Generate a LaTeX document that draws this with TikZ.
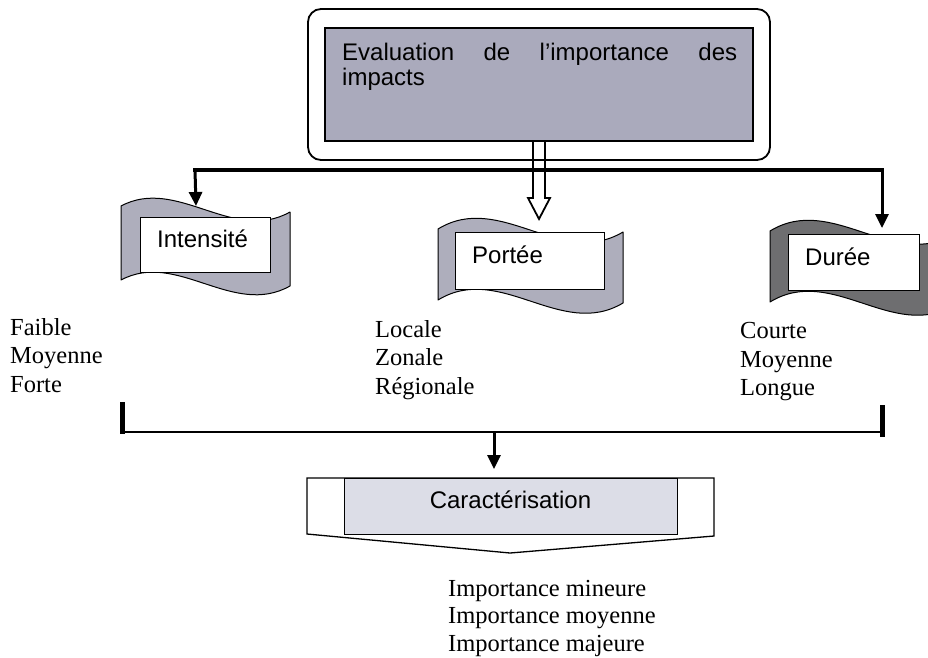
\documentclass[tikz,border=0pt]{standalone}
\usepackage{fontspec}
\newfontfamily\arialf{Liberation Sans}
\newfontfamily\timesf{Liberation Serif}
\usetikzlibrary{arrows.meta,calc}
\definecolor{bannerlight}{HTML}{AEAEBC}
\definecolor{bannerdark}{HTML}{6E6E70}
\definecolor{topfill}{HTML}{AAAABC}
\definecolor{caracfill}{HTML}{DCDDE7}
\begin{document}
\begin{tikzpicture}[x=1pt,y=-1pt,
  sans/.style={font=\arialf\fontsize{24}{28}\selectfont, inner sep=0pt, anchor=base west},
  serif/.style={font=\timesf\fontsize{24.5}{28}\selectfont, inner sep=0pt, anchor=base west},
  rectbox/.style={draw=black, line width=1.3pt, inner sep=0pt, anchor=north west},
  wbox/.style={rectbox, fill=white},
  bannerl/.style={draw=black, line width=1pt, fill=bannerlight, line join=round},
  bannerd/.style={draw=black, line width=1pt, fill=bannerdark, line join=round},
  arrowline/.style={line width=3pt, -{Triangle[width=13pt,length=14pt]}},
  hollowarrow/.style={draw=black, line width=1.8pt, line join=miter}
]
\fill[white] (0,0) rectangle (928,657);
\useasboundingbox (0,0) rectangle (928,657);

% top box
\node[draw=black, line width=1.8pt, rounded corners=13pt, fill=white,
      minimum width=462pt, minimum height=151pt, inner sep=0pt] (evout) at (539,84.5) {};
\node[draw=black, line width=1.5pt, fill=topfill,
      minimum width=428pt, minimum height=113pt, inner sep=0pt] (evin) at (539,84.5) {};
\node[sans] (evt1) at (342,60) {\makebox[395pt][l]{Evaluation\hfill de\hfill l’importance\hfill des}};
\node[sans] (evt2) at (342,85) {impacts};

% distribution line and arrows
\coordinate (hl) at (195,170);
\coordinate (hr) at (882,170);
\coordinate (inttip) at (196,206);
\coordinate (durtip) at (882,228);
\coordinate (portip) at (539,219);

% banners
\draw[bannerl] (121,206) .. controls (177,176) and (233,244) .. (290,212)
   -- (290,286) .. controls (233,318) and (177,250) .. (121,280) -- cycle;
\draw[bannerl] (438,229) .. controls (500,191) and (561,269) .. (623,232)
   -- (623,303) .. controls (561,340) and (500,262) .. (438,300) -- cycle;
\draw[bannerd] (770,231) .. controls (832,193) and (893,271) .. (955,234)
   -- (955,305) .. controls (893,342) and (832,264) .. (770,302) -- cycle;

\node[wbox, minimum width=130pt, minimum height=55pt] (intbox) at (140,217) {};
\node[wbox, minimum width=149pt, minimum height=57pt] (porbox) at (455,232) {};
\node[wbox, minimum width=131pt, minimum height=56pt] (durbox) at (788,234) {};
\node[sans] (intt) at ([xshift=17pt,yshift=-30pt]intbox.north west) {Intensité};
\node[sans] (port) at ([xshift=17pt,yshift=-31pt]porbox.north west) {Portée};
\node[sans] (durt) at ([xshift=17pt,yshift=-31pt]durbox.north west) {Durée};

\draw[line width=4.5pt, line cap=rect] (hl) -- (hr);
\draw[arrowline] (hl) -- (inttip);
\draw[arrowline] (hr) -- (durtip);
\draw[hollowarrow] ([xshift=-6pt]evin.south) -- (533,198) -- (528,198) -- (portip)
   -- (550,198) -- (545,198) -- ([xshift=6pt]evin.south);

% lists
\node[serif] (l1a) at (10,335) {Faible};
\node[serif] (l1b) at (10,363) {Moyenne};
\node[serif] (l1c) at (10,392) {Forte};
\node[serif] (l2a) at (375,337) {Locale};
\node[serif] (l2b) at (375,365) {Zonale};
\node[serif] (l2c) at (375,394) {Régionale};
\node[serif] (l3a) at (740,338) {Courte};
\node[serif] (l3b) at (740,367) {Moyenne};
\node[serif] (l3c) at (740,395) {Longue};

% bracket
\coordinate (bl) at (122,432);
\coordinate (br) at (882,432);
\coordinate (bm) at (494,432);
\coordinate (caractip) at (494,469);
\draw[line width=5pt] (122,402) -- (122,434);
\draw[line width=5pt] (882,405) -- (882,437);
\draw[line width=1.8pt] (bl) -- (br);
\draw[arrowline] (bm) -- (caractip);

% caracterisation
\draw[draw=black, line width=1.3pt, fill=white, line join=miter]
  (307,478) -- (714,478) -- (714,536) -- (510,553) -- (307,534) -- cycle;
\node[rectbox, fill=caracfill, minimum width=333pt, minimum height=56pt] (carac) at (344,478) {};
\node[sans, anchor=base] (caract) at (510.5,508) {Caractérisation};

\node[serif] (r1) at (448,596) {Importance mineure};
\node[serif] (r2) at (448,623) {Importance moyenne};
\node[serif] (r3) at (448,651) {Importance majeure};
\end{tikzpicture}
\end{document}
